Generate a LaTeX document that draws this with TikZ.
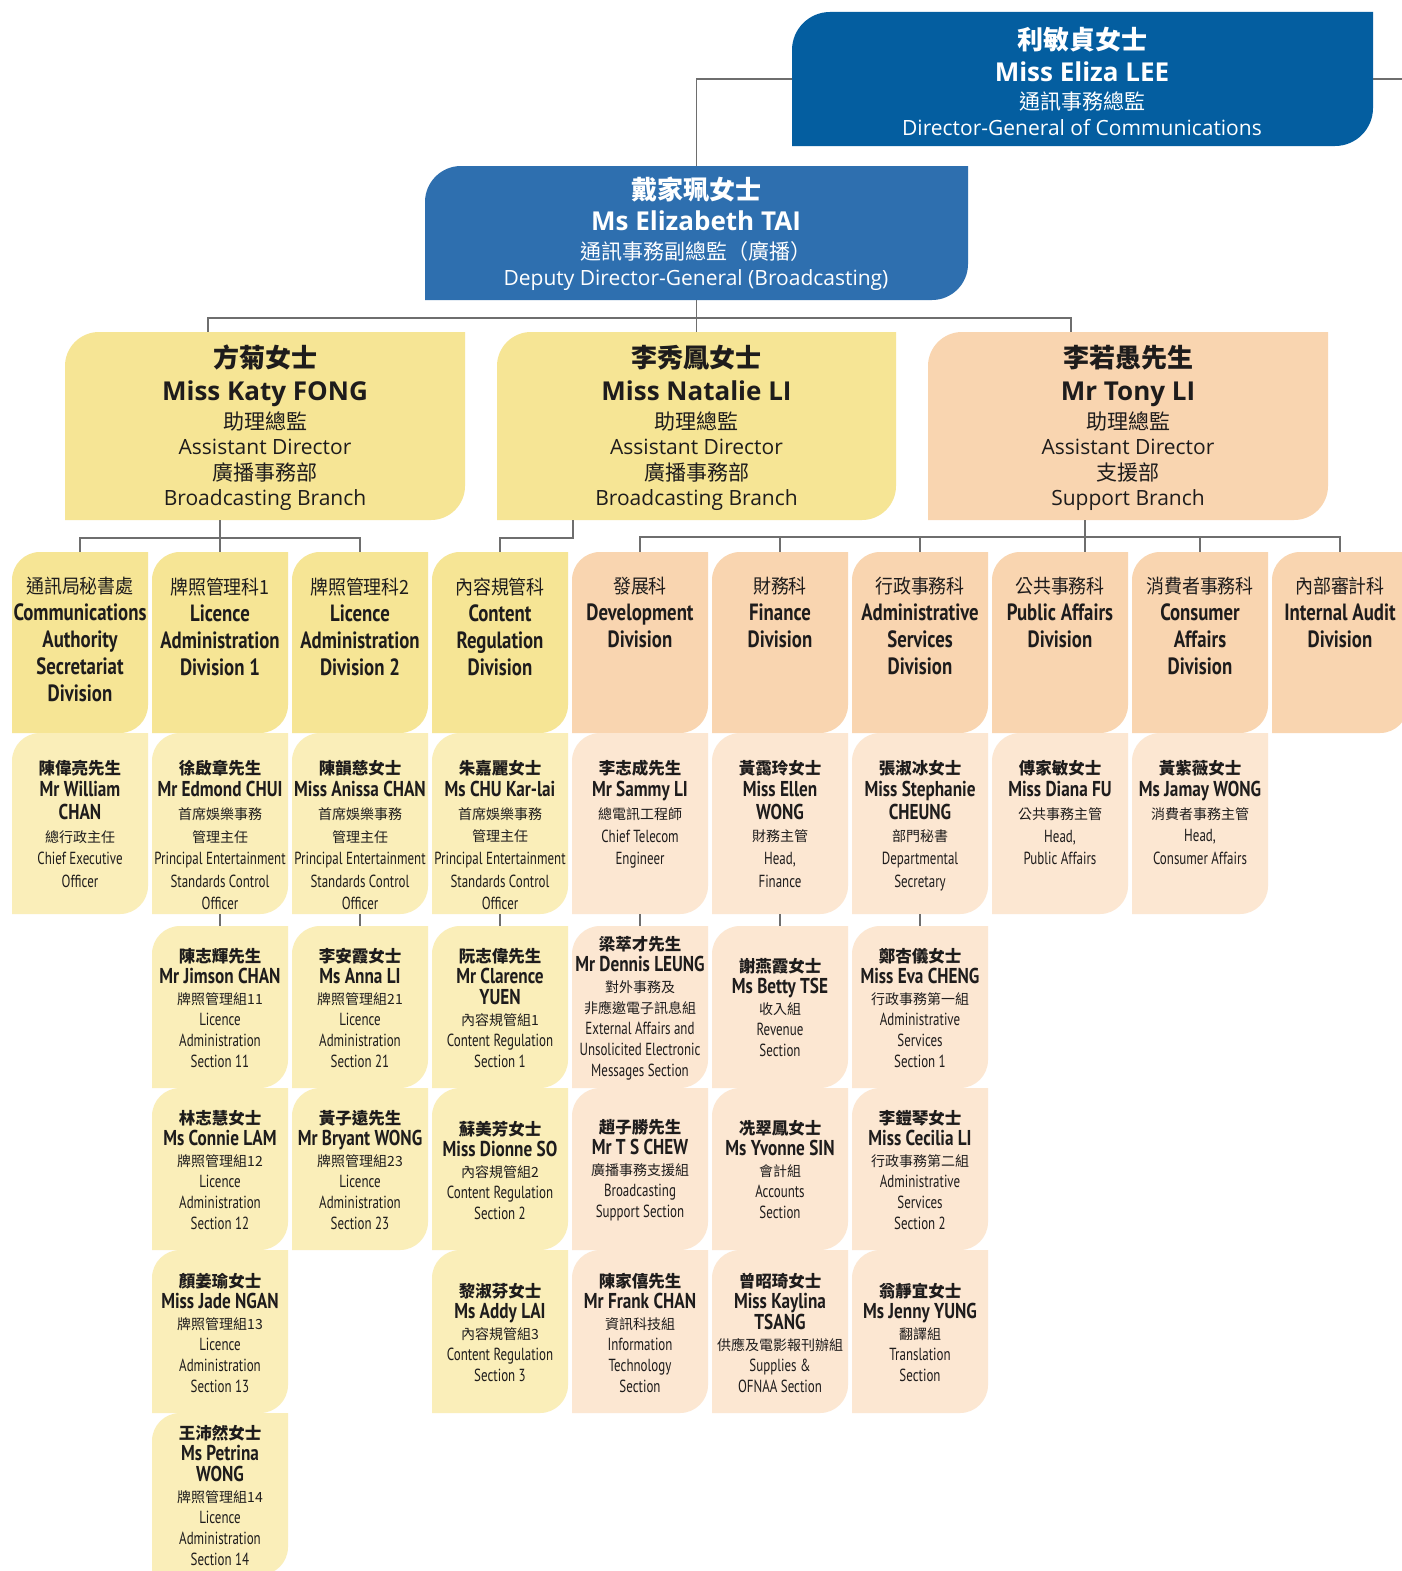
\documentclass[tikz,border=0pt]{standalone}
\usepackage{fontspec}
\setmainfont{Open Sans}
\newfontfamily\cjkf{Noto Sans CJK TC}
\newfontfamily\cjkn[FakeStretch=0.92]{Noto Sans CJK TC}
\newfontfamily\condf[FakeStretch=0.74]{PT Sans}
\newfontfamily\condb[FakeStretch=0.8]{PT Sans}
\usetikzlibrary{calc}
\definecolor{dgblue}{RGB}{4,94,160}
\definecolor{ddgblue}{RGB}{46,111,175}
\definecolor{yel}{RGB}{246,229,149}
\definecolor{yelL}{RGB}{250,238,185}
\definecolor{pch}{RGB}{249,213,176}
\definecolor{pchL}{RGB}{252,231,210}
\definecolor{linegray}{RGB}{110,110,110}
\definecolor{ink}{RGB}{30,28,28}
% top-level text
\newcommand{\tcn}[1]{{\cjkf\bfseries\fontsize{26}{26}\selectfont #1}}
\newcommand{\tnm}[1]{{\bfseries\fontsize{26}{26}\selectfont #1}}
\newcommand{\tcr}[1]{{\cjkf\fontsize{21}{21}\selectfont #1}}
\newcommand{\ten}[1]{{\fontsize{21}{21}\selectfont #1}}
% division text
\newcommand{\dcn}[1]{{\cjkn\fontsize{19.5}{19.5}\selectfont #1}}
\newcommand{\den}[1]{{\condb\bfseries\fontsize{23.5}{23.5}\selectfont #1}}
% person text
\newcommand{\pcn}[1]{{\cjkf\bfseries\fontsize{16.5}{16.5}\selectfont #1}}
\newcommand{\pnm}[1]{{\condb\bfseries\fontsize{21.5}{21.5}\selectfont #1}}
\newcommand{\prc}[1]{{\cjkf\fontsize{14}{14}\selectfont #1}}
\newcommand{\pre}[1]{{\condf\fontsize{17.5}{17.5}\selectfont #1}}
% box with rounded top-left and bottom-right corners
\newcommand{\orgbox}[7]{%
  \fill[#7] (#2,#5) -- (#2,#3+#6) .. controls (#2,#3+0.448*#6) and (#2+0.448*#6,#3) .. (#2+#6,#3)
    -- (#4,#3) -- (#4,#5-#6) .. controls (#4,#5-0.448*#6) and (#4-0.448*#6,#5) .. (#4-#6,#5) -- cycle;
  \node[inner sep=0pt, minimum width={#4-#2}, minimum height={#5-#3}] (#1) at ({(#2+#4)/2},{(#3+#5)/2}) {};}
\newcommand{\cbox}[5]{%
  \pgfmathsetmacro{\bxl}{12+140*#2}%
  \pgfmathsetmacro{\bxr}{148+140*#2}%
  \orgbox{#1}{\bxl}{#3}{\bxr}{#4}{28}{#5}}
\newcommand{\dtext}[2]{\node[divtxt, anchor=north] (#1t) at ($(#1.north)+(0,25.5)$) {#2};}
\newcommand{\ptop}[2]{\node[ponetxt, anchor=north] (#1t) at ($(#1.north)+(0,27)$) {#2};}
\newcommand{\pmid}[2]{\node[pxtxt] (#1t) at ($(#1.center)+(0,1)$) {#2};}
\tikzset{
  conn/.style={draw=linegray, line width=1.4pt},
  toptxt/.style={align=center, inner sep=0pt},
  divtxt/.style={align=center, inner sep=0pt, text=ink, font=\fontsize{19}{27}\selectfont},
  ponetxt/.style={align=center, inner sep=0pt, text=ink, font=\fontsize{16}{22.6}\selectfont},
  pxtxt/.style={align=center, inner sep=0pt, text=ink, font=\fontsize{16}{21}\selectfont},
}
\begin{document}
\begin{tikzpicture}[x=1pt, y=-1pt]
\fill[white] (0,0) rectangle (1402,1571);
\useasboundingbox (0,0) rectangle (1402,1571);
\clip (0,0) rectangle (1402,1571);

% ---- top levels
\orgbox{dg}{792}{12}{1373}{146}{38}{dgblue}
\node[toptxt, text=white, font=\fontsize{21}{26}\selectfont] (dgt) at (1082,81)
  {\tcn{利敏貞女士}\\[6pt]\tnm{Miss Eliza LEE}\\[2pt]\tcr{通訊事務總監}\\\ten{Director-General of Communications}};
\orgbox{ddg}{425}{166}{968}{300}{36}{ddgblue}
\node[toptxt, text=white, font=\fontsize{21}{26}\selectfont] (ddgt) at (696,234)
  {\tcn{戴家珮女士}\\[5pt]\tnm{Ms Elizabeth TAI}\\[3pt]\tcr{通訊事務副總監（廣播）}\\\ten{Deputy Director-General (Broadcasting)}};
\orgbox{katy}{65}{332}{465}{520}{34}{yel}
\node[toptxt, text=ink, font=\fontsize{21}{25.5}\selectfont] (katyt) at (265,428)
  {\tcn{方菊女士}\\[7pt]\tnm{Miss Katy FONG}\\[3.5pt]\tcr{助理總監}\\\ten{Assistant Director}\\\tcr{廣播事務部}\\\ten{Broadcasting Branch}};
\orgbox{natalie}{497}{332}{896}{520}{34}{yel}
\node[toptxt, text=ink, font=\fontsize{21}{25.5}\selectfont] (nataliet) at (696.5,428)
  {\tcn{李秀鳳女士}\\[7pt]\tnm{Miss Natalie LI}\\[3.5pt]\tcr{助理總監}\\\ten{Assistant Director}\\\tcr{廣播事務部}\\\ten{Broadcasting Branch}};
\orgbox{tony}{928}{332}{1328}{520}{34}{pch}
\node[toptxt, text=ink, font=\fontsize{21}{25.5}\selectfont] (tonyt) at (1128,428)
  {\tcn{李若愚先生}\\[7pt]\tnm{Mr Tony LI}\\[3.5pt]\tcr{助理總監}\\\ten{Assistant Director}\\\tcr{支援部}\\\ten{Support Branch}};

% ---- divisions
\cbox{dCA}{0}{552}{733}{yel}
\cbox{dLA1}{1}{552}{733}{yel}
\cbox{dLA2}{2}{552}{733}{yel}
\cbox{dCR}{3}{552}{733}{yel}
\cbox{dDev}{4}{552}{733}{pch}
\cbox{dFin}{5}{552}{733}{pch}
\cbox{dAdm}{6}{552}{733}{pch}
\cbox{dPub}{7}{552}{733}{pch}
\cbox{dCon}{8}{552}{733}{pch}
\cbox{dAud}{9}{552}{733}{pch}
\dtext{dCA}{\dcn{通訊局秘書處}\\\den{Communications}\\\den{Authority}\\\den{Secretariat}\\\den{Division}}
\dtext{dLA1}{\dcn{牌照管理科1}\\\den{Licence}\\\den{Administration}\\\den{Division 1}}
\dtext{dLA2}{\dcn{牌照管理科2}\\\den{Licence}\\\den{Administration}\\\den{Division 2}}
\dtext{dCR}{\dcn{內容規管科}\\\den{Content}\\\den{Regulation}\\\den{Division}}
\dtext{dDev}{\dcn{發展科}\\\den{Development}\\\den{Division}}
\dtext{dFin}{\dcn{財務科}\\\den{Finance}\\\den{Division}}
\dtext{dAdm}{\dcn{行政事務科}\\\den{Administrative}\\\den{Services}\\\den{Division}}
\dtext{dPub}{\dcn{公共事務科}\\\den{Public Affairs}\\\den{Division}}
\dtext{dCon}{\dcn{消費者事務科}\\\den{Consumer}\\\den{Affairs}\\\den{Division}}
\dtext{dAud}{\dcn{內部審計科}\\\den{Internal Audit}\\\den{Division}}

% ---- person row 1
\cbox{pCA}{0}{733}{914}{yelL}
\cbox{pLA1}{1}{733}{914}{yelL}
\cbox{pLA2}{2}{733}{914}{yelL}
\cbox{pCR}{3}{733}{914}{yelL}
\cbox{pDev}{4}{733}{914}{pchL}
\cbox{pFin}{5}{733}{914}{pchL}
\cbox{pAdm}{6}{733}{914}{pchL}
\cbox{pPub}{7}{733}{914}{pchL}
\cbox{pCon}{8}{733}{914}{pchL}
\ptop{pCA}{\pcn{陳偉亮先生}\\\pnm{Mr William}\\\pnm{CHAN}\\\prc{總行政主任}\\\pre{Chief Executive}\\\pre{Officer}}
\ptop{pLA1}{\pcn{徐啟章先生}\\\pnm{Mr Edmond CHUI}\\\prc{首席娛樂事務}\\\prc{管理主任}\\\pre{Principal Entertainment}\\\pre{Standards Control}\\\pre{Officer}}
\ptop{pLA2}{\pcn{陳韻慈女士}\\\pnm{Miss Anissa CHAN}\\\prc{首席娛樂事務}\\\prc{管理主任}\\\pre{Principal Entertainment}\\\pre{Standards Control}\\\pre{Officer}}
\ptop{pCR}{\pcn{朱嘉麗女士}\\\pnm{Ms CHU Kar-lai}\\\prc{首席娛樂事務}\\\prc{管理主任}\\\pre{Principal Entertainment}\\\pre{Standards Control}\\\pre{Officer}}
\ptop{pDev}{\pcn{李志成先生}\\\pnm{Mr Sammy LI}\\\prc{總電訊工程師}\\\pre{Chief Telecom}\\\pre{Engineer}}
\ptop{pFin}{\pcn{黃靄玲女士}\\\pnm{Miss Ellen}\\\pnm{WONG}\\\prc{財務主管}\\\pre{Head,}\\\pre{Finance}}
\ptop{pAdm}{\pcn{張淑冰女士}\\\pnm{Miss Stephanie}\\\pnm{CHEUNG}\\\prc{部門秘書}\\\pre{Departmental}\\\pre{Secretary}}
\ptop{pPub}{\pcn{傅家敏女士}\\\pnm{Miss Diana FU}\\\prc{公共事務主管}\\\pre{Head,}\\\pre{Public Affairs}}
\ptop{pCon}{\pcn{黃紫薇女士}\\\pnm{Ms Jamay WONG}\\\prc{消費者事務主管}\\\pre{Head,}\\\pre{Consumer Affairs}}

% ---- row 2
\cbox{pLA11}{1}{926}{1088}{yelL}
\cbox{pLA21}{2}{926}{1088}{yelL}
\cbox{pCR1}{3}{926}{1088}{yelL}
\cbox{pEA}{4}{926}{1088}{pchL}
\cbox{pRev}{5}{926}{1088}{pchL}
\cbox{pAS1}{6}{926}{1088}{pchL}
\pmid{pLA11}{\pcn{陳志輝先生}\\\pnm{Mr Jimson CHAN}\\\prc{牌照管理組11}\\\pre{Licence}\\\pre{Administration}\\\pre{Section 11}}
\pmid{pLA21}{\pcn{李安霞女士}\\\pnm{Ms Anna LI}\\\prc{牌照管理組21}\\\pre{Licence}\\\pre{Administration}\\\pre{Section 21}}
\pmid{pCR1}{\pcn{阮志偉先生}\\\pnm{Mr Clarence}\\\pnm{YUEN}\\\prc{內容規管組1}\\\pre{Content Regulation}\\\pre{Section 1}}
\pmid{pEA}{\pcn{梁萃才先生}\\\pnm{Mr Dennis LEUNG}\\\prc{對外事務及}\\\prc{非應邀電子訊息組}\\\pre{External Affairs and}\\\pre{Unsolicited Electronic}\\\pre{Messages Section}}
\pmid{pRev}{\pcn{謝燕霞女士}\\\pnm{Ms Betty TSE}\\\prc{收入組}\\\pre{Revenue}\\\pre{Section}}
\pmid{pAS1}{\pcn{鄭杏儀女士}\\\pnm{Miss Eva CHENG}\\\prc{行政事務第一組}\\\pre{Administrative}\\\pre{Services}\\\pre{Section 1}}

% ---- row 3
\cbox{pLA12}{1}{1088}{1250}{yelL}
\cbox{pLA23}{2}{1088}{1250}{yelL}
\cbox{pCR2}{3}{1088}{1250}{yelL}
\cbox{pBS}{4}{1088}{1250}{pchL}
\cbox{pAcc}{5}{1088}{1250}{pchL}
\cbox{pAS2}{6}{1088}{1250}{pchL}
\pmid{pLA12}{\pcn{林志慧女士}\\\pnm{Ms Connie LAM}\\\prc{牌照管理組12}\\\pre{Licence}\\\pre{Administration}\\\pre{Section 12}}
\pmid{pLA23}{\pcn{黃子遠先生}\\\pnm{Mr Bryant WONG}\\\prc{牌照管理組23}\\\pre{Licence}\\\pre{Administration}\\\pre{Section 23}}
\pmid{pCR2}{\pcn{蘇美芳女士}\\\pnm{Miss Dionne SO}\\\prc{內容規管組2}\\\pre{Content Regulation}\\\pre{Section 2}}
\pmid{pBS}{\pcn{趙子勝先生}\\\pnm{Mr T S CHEW}\\\prc{廣播事務支援組}\\\pre{Broadcasting}\\\pre{Support Section}}
\pmid{pAcc}{\pcn{冼翠鳳女士}\\\pnm{Ms Yvonne SIN}\\\prc{會計組}\\\pre{Accounts}\\\pre{Section}}
\pmid{pAS2}{\pcn{李鎧琴女士}\\\pnm{Miss Cecilia LI}\\\prc{行政事務第二組}\\\pre{Administrative}\\\pre{Services}\\\pre{Section 2}}

% ---- row 4
\cbox{pLA13}{1}{1250}{1413}{yelL}
\cbox{pCR3}{3}{1250}{1413}{yelL}
\cbox{pIT}{4}{1250}{1413}{pchL}
\cbox{pSup}{5}{1250}{1413}{pchL}
\cbox{pTr}{6}{1250}{1413}{pchL}
\pmid{pLA13}{\pcn{顏姜瑜女士}\\\pnm{Miss Jade NGAN}\\\prc{牌照管理組13}\\\pre{Licence}\\\pre{Administration}\\\pre{Section 13}}
\pmid{pCR3}{\pcn{黎淑芬女士}\\\pnm{Ms Addy LAI}\\\prc{內容規管組3}\\\pre{Content Regulation}\\\pre{Section 3}}
\pmid{pIT}{\pcn{陳家僖先生}\\\pnm{Mr Frank CHAN}\\\prc{資訊科技組}\\\pre{Information}\\\pre{Technology}\\\pre{Section}}
\pmid{pSup}{\pcn{曾昭琦女士}\\\pnm{Miss Kaylina}\\\pnm{TSANG}\\\prc{供應及電影報刊辦組}\\\pre{Supplies \&}\\\pre{OFNAA Section}}
\pmid{pTr}{\pcn{翁靜宜女士}\\\pnm{Ms Jenny YUNG}\\\prc{翻譯組}\\\pre{Translation}\\\pre{Section}}

% ---- row 5
\cbox{pLA14}{1}{1413}{1575}{yelL}
\pmid{pLA14}{\pcn{王沛然女士}\\\pnm{Ms Petrina}\\\pnm{WONG}\\\prc{牌照管理組14}\\\pre{Licence}\\\pre{Administration}\\\pre{Section 14}}

% ---- connectors
\coordinate (dgR) at (1402,79);
\draw[conn] (dg.west) -| (ddg.north);
\draw[conn] (dg.east) -- (dgR);
\coordinate (kd) at (208,318);
\coordinate (td) at (1071,318);
\draw[conn] (ddg.south) -- (natalie.north);
\draw[conn] (kd |- katy.north) -- (kd) -- (td) -- (td |- tony.north);
\coordinate (kb) at (220,538);
\draw[conn] (dLA1.north |- katy.south) -- (dLA1.north);
\draw[conn] (dCA.north) -- (dCA.north |- kb) -- (dLA2.north |- kb) -- (dLA2.north);
\coordinate (nb) at (573,538);
\draw[conn] (nb |- natalie.south) -- (nb) -- (dCR.north |- nb) -- (dCR.north);
\coordinate (tb) at (1085,537);
\draw[conn] (tb |- tony.south) -- (tb |- dPub.north);
\draw[conn] (dDev.north) -- (dDev.north |- tb) -- (dAud.north |- tb) -- (dAud.north);
\foreach \n in {dFin,dAdm,dCon} \draw[conn] (\n.north |- tb) -- (\n.north);
\foreach \a/\b in {pLA1/pLA11, pLA2/pLA21, pCR/pCR1, pDev/pEA, pFin/pRev, pAdm/pAS1}
  \draw[conn] (\a.south) -- (\b.north);
\end{tikzpicture}
\end{document}
